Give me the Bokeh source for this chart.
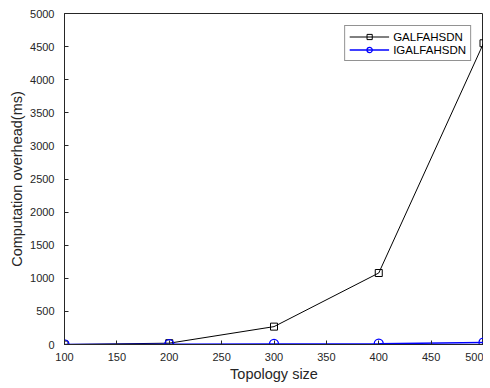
from bokeh.plotting import figure
from bokeh.models import Range1d, SingleIntervalTicker, Legend, LegendItem
from bokeh.embed import file_html
from bokeh.resources import INLINE

topology = [100, 200, 300, 400, 500]
galfahsdn = [0, 20, 270, 1080, 4550]
igalfahsdn = [2, 5, 8, 12, 30]

FONT = "Liberation Sans"
AX = "#262626"

p = figure(width=483, height=386, output_backend="svg", toolbar_location=None,
           x_range=Range1d(100, 500), y_range=Range1d(0, 5000),
           min_border_left=64, min_border_right=0, min_border_top=13, min_border_bottom=42)
p.xgrid.visible = False
p.ygrid.visible = False
p.outline_line_color = AX
p.outline_line_width = 1

p.xaxis.ticker = SingleIntervalTicker(interval=50)
p.yaxis.ticker = SingleIntervalTicker(interval=500)
for ax in (p.xaxis[0], p.yaxis[0]):
    ax.major_tick_in = 4
    ax.major_tick_out = 0
    ax.minor_tick_line_color = None
    ax.axis_line_color = AX
    ax.major_tick_line_color = AX
    ax.major_label_text_font = FONT
    ax.major_label_text_font_size = "11px"
    ax.major_label_text_color = AX
    ax.axis_label_text_font = FONT
    ax.axis_label_text_font_size = "14.5px"
    ax.axis_label_text_font_style = "normal"
    ax.axis_label_text_color = AX
p.xaxis.axis_label = "Topology size"
p.yaxis.axis_label = "Computation overhead(ms)"
p.xaxis.major_label_standoff = 4
p.yaxis.major_label_standoff = 6
p.xaxis.axis_label_standoff = 2
p.yaxis.axis_label_standoff = 2

l1 = p.line(topology, galfahsdn, line_color="black", line_width=1)
s1 = p.scatter(topology, galfahsdn, marker="square", size=7, line_color="black",
               fill_color=None, line_width=1)
l2 = p.line(topology, igalfahsdn, line_color="blue", line_width=1.4)
s2 = p.scatter(topology, igalfahsdn, marker="circle", size=9, line_color="blue",
               fill_color=None, line_width=1.3)

legend = Legend(items=[LegendItem(label="GALFAHSDN", renderers=[l1, s1]),
                       LegendItem(label="IGALFAHSDN", renderers=[l2, s2])],
                location="top_right")
legend.label_text_font = FONT
legend.label_text_font_size = "11.5px"
legend.label_text_color = "black"
legend.border_line_color = AX
legend.border_line_width = 1
legend.margin = 12
legend.padding = 4
legend.spacing = 0
legend.glyph_width = 40
legend.glyph_height = 13
legend.label_height = 13
legend.label_standoff = 4
p.add_layout(legend, "center")

open("out.html", "w").write(file_html(p, INLINE))
